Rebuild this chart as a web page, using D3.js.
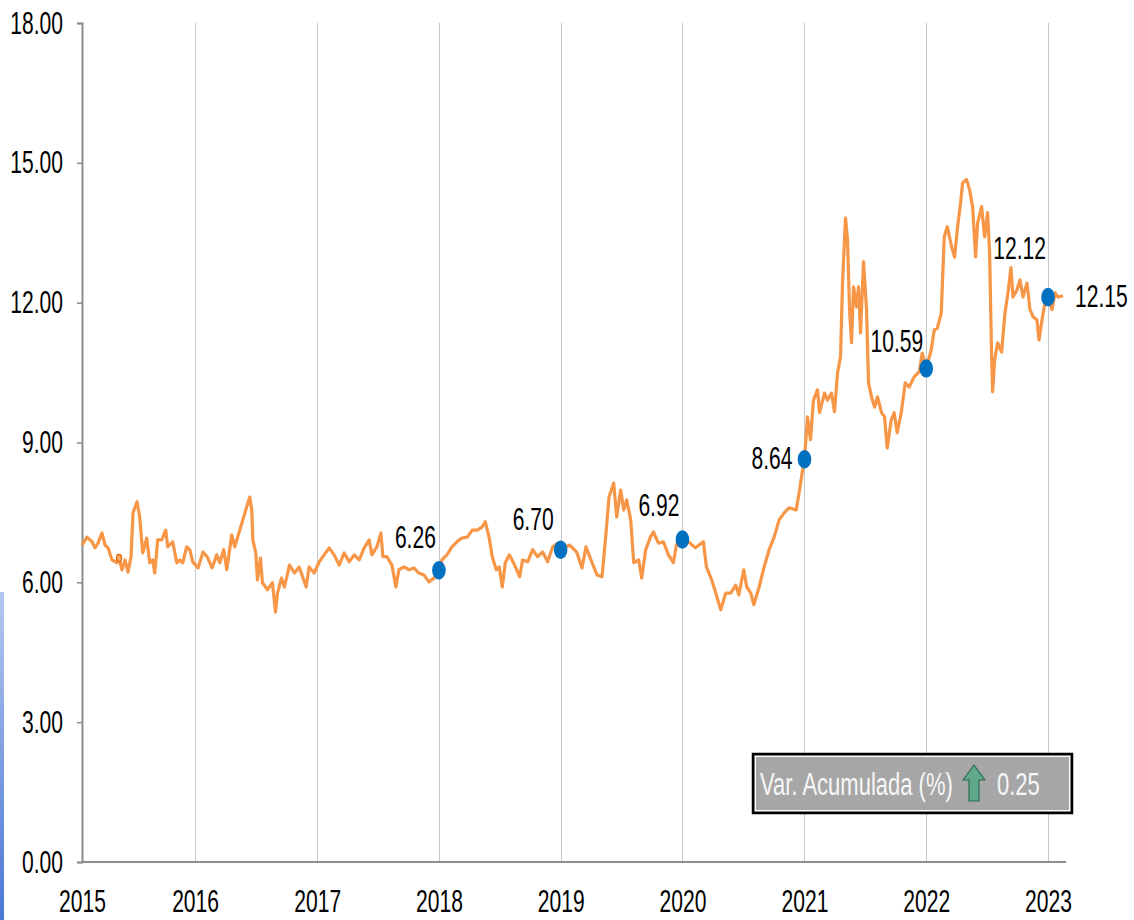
<!DOCTYPE html>
<html>
<head>
<meta charset="utf-8">
<script src="https://cdn.jsdelivr.net/npm/d3@7"></script>
<style>
  body { margin: 0; background: #fff; }
  svg { display: block; }
</style>
</head>
<body>
<svg id="chart" width="1134" height="920"></svg>
<script>
// daily series (one point every ~2 weeks)
var dates = [
"2015-01-27","2015-02-11","2015-02-26","2015-03-07","2015-03-16","2015-03-28","2015-04-06","2015-04-15","2015-04-27","2015-05-12",
"2015-05-18","2015-05-27","2015-06-05","2015-06-14","2015-06-23","2015-06-29","2015-07-11","2015-07-19","2015-07-28","2015-08-09",
"2015-08-18","2015-08-27","2015-09-02","2015-09-11","2015-09-23","2015-10-05","2015-10-11","2015-10-26","2015-11-07","2015-11-16",
"2015-11-25","2015-12-07","2015-12-16","2015-12-25","2016-01-10","2016-01-25","2016-02-06","2016-02-21","2016-03-06","2016-03-15",
"2016-03-27","2016-04-05","2016-04-20","2016-04-29","2016-05-14","2016-05-23","2016-06-04","2016-06-13","2016-06-19","2016-06-22",
"2016-07-01","2016-07-06","2016-07-15","2016-07-21","2016-08-05","2016-08-20","2016-08-29","2016-09-04","2016-09-16","2016-09-25",
"2016-10-10","2016-10-25","2016-11-08","2016-11-29","2016-12-08","2016-12-23","2017-01-07","2017-01-22","2017-02-06","2017-02-21",
"2017-03-08","2017-03-23","2017-04-07","2017-04-22","2017-05-07","2017-05-22","2017-06-06","2017-06-14","2017-06-29","2017-07-11",
"2017-07-17","2017-07-29","2017-08-13","2017-08-25","2017-09-03","2017-09-18","2017-10-03","2017-10-18","2017-11-02","2017-11-17",
"2017-12-02","2017-12-17","2018-01-01","2018-01-10","2018-01-25","2018-02-09","2018-02-24","2018-03-11","2018-03-27","2018-04-11",
"2018-04-26","2018-05-11","2018-05-20","2018-06-01","2018-06-10","2018-06-22","2018-07-01","2018-07-10","2018-07-19","2018-07-31",
"2018-08-16","2018-08-31","2018-09-09","2018-09-24","2018-10-09","2018-10-24","2018-11-08","2018-11-23","2018-12-08","2018-12-23",
"2019-01-01","2019-01-28","2019-02-18","2019-03-06","2019-03-18","2019-04-02","2019-04-20","2019-05-05","2019-05-17","2019-05-26",
"2019-06-09","2019-06-18","2019-06-30","2019-07-09","2019-07-18","2019-07-30","2019-08-08","2019-08-23","2019-09-01","2019-09-13",
"2019-09-27","2019-10-06","2019-10-21","2019-11-05","2019-11-20","2019-12-05","2019-12-14","2020-01-01","2020-01-19","2020-02-09",
"2020-03-04","2020-03-13","2020-03-29","2020-04-10","2020-04-25","2020-05-10","2020-05-25","2020-06-09","2020-06-18","2020-07-03",
"2020-07-12","2020-07-24","2020-08-02","2020-08-18","2020-09-02","2020-09-17","2020-10-02","2020-10-17","2020-11-01","2020-11-16",
"2020-12-07","2020-12-16","2020-12-25","2021-01-01","2021-01-10","2021-01-19","2021-01-28","2021-02-09","2021-02-15","2021-03-02",
"2021-03-11","2021-03-23","2021-04-01","2021-04-10","2021-04-19","2021-04-25","2021-05-04","2021-05-10","2021-05-16","2021-05-22",
"2021-05-28","2021-06-06","2021-06-12","2021-06-18","2021-06-27","2021-07-06","2021-07-12","2021-07-21","2021-07-30","2021-08-08",
"2021-08-20","2021-08-29","2021-09-06","2021-09-18","2021-09-27","2021-10-06","2021-10-18","2021-10-30","2021-11-11","2021-11-26",
"2021-12-11","2021-12-20","2022-01-01","2022-01-16","2022-01-25","2022-02-03","2022-02-15","2022-02-24","2022-03-05","2022-03-18",
"2022-03-27","2022-04-05","2022-04-14","2022-04-20","2022-05-02","2022-05-11","2022-05-20","2022-05-29","2022-06-04","2022-06-16",
"2022-06-25","2022-07-04","2022-07-10","2022-07-16","2022-07-19","2022-07-25","2022-08-03","2022-08-15","2022-08-25","2022-09-03",
"2022-09-12","2022-09-18","2022-09-30","2022-10-09","2022-10-18","2022-10-30","2022-11-08","2022-11-17","2022-11-29","2022-12-05",
"2022-12-14","2022-12-23","2023-01-01","2023-01-13","2023-01-22","2023-01-31","2023-02-15"
];
var values = [
6.80,6.97,6.87,6.74,6.84,7.06,6.80,6.74,6.48,6.42,
6.52,6.27,6.48,6.22,6.55,7.49,7.73,7.40,6.63,6.95,
6.42,6.48,6.20,6.91,6.91,7.12,6.76,6.87,6.42,6.48,
6.42,6.76,6.70,6.44,6.31,6.65,6.55,6.31,6.59,6.42,
6.70,6.27,7.02,6.76,7.12,7.34,7.62,7.83,7.55,6.91,
6.63,6.05,6.52,5.99,5.84,5.99,5.36,5.77,6.09,5.90,
6.37,6.20,6.33,5.90,6.33,6.20,6.44,6.59,6.74,6.59,
6.37,6.63,6.44,6.59,6.48,6.74,6.91,6.59,6.76,7.06,
6.55,6.55,6.37,5.90,6.27,6.33,6.27,6.31,6.20,6.16,
6.01,6.09,6.26,6.48,6.59,6.76,6.87,6.95,6.97,7.12,
7.12,7.19,7.30,6.95,6.55,6.27,6.33,5.90,6.42,6.59,
6.37,6.12,6.48,6.44,6.70,6.55,6.65,6.44,6.76,6.84,
6.70,6.80,6.65,6.31,6.76,6.48,6.16,6.12,7.06,7.83,
8.13,7.40,7.98,7.55,7.77,7.34,6.42,6.48,6.09,6.70,
6.97,7.08,6.84,6.87,6.59,6.42,6.80,6.92,6.87,6.74,
6.87,6.33,6.05,5.77,5.41,5.77,5.77,5.94,5.73,6.27,
5.90,5.77,5.52,5.90,6.33,6.70,6.97,7.34,7.49,7.60,
7.55,7.92,8.35,8.64,9.55,9.06,9.91,10.13,9.64,10.06,
9.91,10.06,9.66,10.49,10.84,12.42,13.82,13.35,11.85,11.14,
12.34,11.91,12.34,11.35,12.88,11.85,10.28,9.98,9.76,9.98,
9.64,9.55,8.88,9.48,9.64,9.21,9.64,10.28,10.19,10.41,
10.52,10.92,10.59,10.99,11.42,11.45,11.78,13.41,13.63,13.20,
12.98,13.63,14.14,14.57,14.64,14.42,14.06,12.98,13.71,14.06,
13.41,13.93,13.07,10.84,10.09,10.77,11.14,10.94,11.78,12.21,
12.75,12.12,12.27,12.49,12.12,12.42,11.85,11.70,11.63,11.20,
11.63,12.00,12.12,11.85,12.21,12.12,12.15
];

// year-start points that get a blue dot and a label
var markDates = ["2018-01-01","2019-01-01","2020-01-01","2021-01-01","2022-01-01","2023-01-01"];
// small hollow marker on the 2015 stretch
var smallMarkDate = "2015-05-18";

var yTicks = [0, 3, 6, 9, 12, 15, 18];
var yearStarts = ["2016-01-01","2017-01-01","2018-01-01","2019-01-01","2020-01-01","2021-01-01","2022-01-01","2023-01-01"];

var boxLabel = "Var. Acumulada (%)";
var boxValue = "0.25";

// label placement [dx, dy] relative to each dot (text-anchor end)
var labelOffsets = [[-3,-22],[-7,-20],[-3,-23],[-12,10],[-3,-16],[-2,-38]];

var parse = d3.timeParse("%Y-%m-%d");
var fmt2 = d3.format(".2f");
var data = dates.map(function(d, i) { return {date: parse(d), value: values[i]}; });
var lookup = {};
dates.forEach(function(d, i) { lookup[d] = values[i]; });

var FONT = "'Liberation Sans', Arial, sans-serif";
var FS = 31;
var SQUEEZE = 0.68;   // the source picture is horizontally compressed

var svg = d3.select("#chart");

// left-edge blue strip (artifact in the source)
var defs = svg.append("defs");
var grad = defs.append("linearGradient").attr("id", "strip")
  .attr("x1", 0).attr("y1", 0).attr("x2", 0).attr("y2", 1);
grad.append("stop").attr("offset", "0%").attr("stop-color", "#b4c8f0");
grad.append("stop").attr("offset", "100%").attr("stop-color", "#4a76d6");
svg.append("rect").attr("x", 0).attr("y", 592).attr("width", 4).attr("height", 328)
  .attr("fill", "url(#strip)");

var x = d3.scaleTime()
  .domain([data[0].date, data[data.length - 1].date])
  .range([82, 1063]);
var y = d3.scaleLinear()
  .domain([0, 18])
  .range([862, 23]);

// vertical gridlines at each year start
svg.append("g").selectAll("line")
  .data(yearStarts.map(parse))
  .enter().append("line")
    .attr("x1", function(d) { return Math.round(x(d)) + 0.5; })
    .attr("x2", function(d) { return Math.round(x(d)) + 0.5; })
    .attr("y1", y(18))
    .attr("y2", y(0))
    .attr("stroke", "#c6c6c6")
    .attr("stroke-width", 1);

// y axis
var yAxis = svg.append("g")
  .attr("transform", "translate(82,0)")
  .call(d3.axisLeft(y).tickValues(yTicks).tickSize(5).tickSizeOuter(5).tickFormat(fmt2));
yAxis.attr("font-size", FS).attr("font-family", FONT);
yAxis.select(".domain").attr("stroke", "#8c8c8c").attr("stroke-width", 2);
yAxis.selectAll(".tick line").attr("stroke", "#8c8c8c").attr("stroke-width", 1.5);
yAxis.selectAll(".tick text")
  .attr("x", 0).attr("dy", null)
  .attr("fill", "#000")
  .attr("transform", "translate(-19,10) scale(" + SQUEEZE + ",1)");

// x axis
var xTickDates = [data[0].date].concat(yearStarts.map(parse));
var xAxis = svg.append("g")
  .attr("transform", "translate(0,862)")
  .call(d3.axisBottom(x).tickValues(xTickDates).tickSize(0).tickSizeOuter(0)
    .tickFormat(d3.timeFormat("%Y")));
xAxis.attr("font-size", FS).attr("font-family", FONT);
xAxis.select(".domain").remove();
xAxis.selectAll(".tick text")
  .attr("y", 0).attr("dy", null)
  .attr("fill", "#000")
  .attr("transform", "translate(0,50) scale(" + SQUEEZE + ",1)");
svg.append("line")
  .attr("x1", 82).attr("x2", x.range()[1] + 3)
  .attr("y1", y(0)).attr("y2", y(0))
  .attr("stroke", "#8c8c8c").attr("stroke-width", 2);

// the line
var line = d3.line()
  .x(function(d) { return x(d.date); })
  .y(function(d) { return y(d.value); });
svg.append("path")
  .datum(data)
  .attr("d", line)
  .attr("fill", "none")
  .attr("stroke", "#f79646")
  .attr("stroke-width", 3.2)
  .attr("stroke-linejoin", "round");

// small hollow marker
svg.append("ellipse")
  .attr("cx", x(parse(smallMarkDate)))
  .attr("cy", y(lookup[smallMarkDate]))
  .attr("rx", 2.6).attr("ry", 3.6)
  .attr("fill", "#f9a868")
  .attr("stroke", "#e46c0a")
  .attr("stroke-width", 1.3);

// year-start dots + labels
var marks = markDates.map(function(d, i) {
  return {date: parse(d), value: lookup[d], off: labelOffsets[i]};
});
svg.append("g").selectAll("ellipse")
  .data(marks)
  .enter().append("ellipse")
    .attr("cx", function(d) { return x(d.date); })
    .attr("cy", function(d) { return y(d.value); })
    .attr("rx", 6.8)
    .attr("ry", 9.2)
    .attr("fill", "#0070c0");
svg.append("g").selectAll("text")
  .data(marks)
  .enter().append("text")
    .attr("transform", function(d) {
      return "translate(" + (x(d.date) + d.off[0]) + "," + (y(d.value) + d.off[1]) + ") scale(" + SQUEEZE + ",1)";
    })
    .attr("text-anchor", "end")
    .attr("font-family", FONT)
    .attr("font-size", FS)
    .attr("fill", "#000")
    .text(function(d) { return fmt2(d.value); });

// last value label
var last = data[data.length - 1];
svg.append("text")
  .attr("transform", "translate(" + (x(last.date) + 12) + "," + (y(last.value) + 11) + ") scale(" + SQUEEZE + ",1)")
  .attr("font-family", FONT)
  .attr("font-size", FS)
  .attr("fill", "#000")
  .text(fmt2(last.value));

// cumulative change box
var box = svg.append("g").attr("transform", "translate(753,754)");
box.append("rect")
  .attr("x", 0).attr("y", 0).attr("width", 319).attr("height", 59)
  .attr("fill", "#a6a6a6").attr("stroke", "#000").attr("stroke-width", 2.5);
box.append("rect")
  .attr("x", 2.5).attr("y", 2.5).attr("width", 314).attr("height", 54)
  .attr("fill", "none").attr("stroke", "#fff").attr("stroke-width", 1);
box.append("text")
  .attr("transform", "translate(7,41) scale(0.71,1)")
  .attr("font-family", FONT)
  .attr("font-size", FS)
  .attr("fill", "#f7f7f7")
  .text(boxLabel);
box.append("path")
  .attr("d", "M221,11 L232,26 L226,26 L226,47 L216,47 L216,26 L210,26 Z")
  .attr("fill", "#5fa88a")
  .attr("stroke", "#2e6b52")
  .attr("stroke-width", 1.2)
  .attr("stroke-linejoin", "round");
box.append("text")
  .attr("transform", "translate(244,41) scale(0.71,1)")
  .attr("font-family", FONT)
  .attr("font-size", FS)
  .attr("fill", "#f7f7f7")
  .text(boxValue);
</script>
</body>
</html>
